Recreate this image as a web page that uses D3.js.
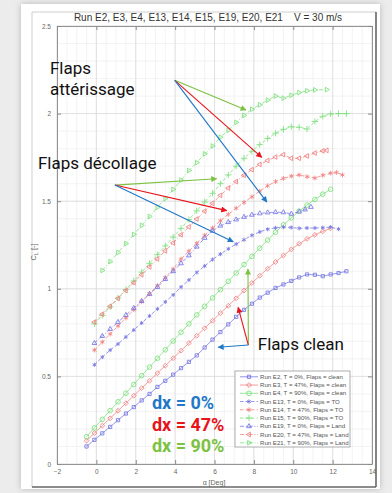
<!DOCTYPE html>
<html><head><meta charset="utf-8">
<script src="https://cdn.jsdelivr.net/npm/d3@7"></script>
<style>html,body{margin:0;padding:0;background:#ececec;overflow:hidden}svg{display:block}</style>
</head><body>
<script>
// ---------------- DATA ----------------
const titleText = "Run E2, E3, E4, E13, E14, E15, E19, E20, E21    V = 30 m/s";
const xTicks = [-2, 0, 2, 4, 6, 8, 10, 12, 14];
const yTicks = [0, 0.5, 1, 1.5, 2, 2.5];
const yTickLabels = ["0", "0.5", "1", "1.5", "2", "2.5"];
const runs = ["E2", "E3", "E4", "E13", "E14", "E15", "E19", "E20", "E21"];
const legendLabels = [
  "Run E2, T = 0%, Flaps = clean",
  "Run E3, T = 47%, Flaps = clean",
  "Run E4, T = 90%, Flaps = clean",
  "Run E13, T = 0%, Flaps = TO",
  "Run E14, T = 47%, Flaps = TO",
  "Run E15, T = 90%, Flaps = TO",
  "Run E19, T = 0%, Flaps = Land",
  "Run E20, T = 47%, Flaps = Land",
  "Run E21, T = 90%, Flaps = Land"
];
const thrust = ["0%", "47%", "90%", "0%", "47%", "90%", "0%", "47%", "90%"];
const flaps = ["clean", "clean", "clean", "TO", "TO", "TO", "Land", "Land", "Land"];

const alphaE2 = [-0.5,-0.1,0.3,0.7,1.1,1.5,1.9,2.3,2.7,3.1,3.5,3.9,4.3,4.7,5.1,5.5,5.9,6.3,6.7,7.1,7.5,7.9,8.3,8.7,9.1,9.5,9.9,10.3,10.7,11.1,11.5,11.9,12.3,12.7];
const clE2 = [0.100,0.138,0.175,0.212,0.250,0.288,0.325,0.363,0.400,0.440,0.475,0.510,0.547,0.583,0.620,0.665,0.710,0.753,0.797,0.840,0.880,0.915,0.950,0.978,1.005,1.025,1.045,1.065,1.082,1.080,1.072,1.082,1.090,1.100];

const alphaE3 = [-0.5,-0.1,0.3,0.7,1.1,1.5,1.9,2.3,2.7,3.1,3.5,3.9,4.3,4.7,5.1,5.5,5.9,6.3,6.7,7.1,7.5,7.9,8.3,8.7,9.1,9.5,9.9,10.3,10.7,11.1,11.5,11.9];
const clE3 = [0.133,0.176,0.219,0.261,0.304,0.347,0.390,0.433,0.475,0.518,0.561,0.604,0.647,0.690,0.732,0.775,0.818,0.861,0.903,0.946,0.990,1.033,1.075,1.115,1.153,1.190,1.225,1.257,1.285,1.308,1.328,1.345];

const alphaE4 = [-0.5,-0.1,0.3,0.7,1.1,1.5,1.9,2.3,2.7,3.1,3.5,3.9,4.3,4.7,5.1,5.5,5.9,6.3,6.7,7.1,7.5,7.9,8.3,8.7,9.1,9.5,9.9,10.3,10.7,11.1,11.5,11.9];
const clE4 = [0.156,0.206,0.255,0.305,0.355,0.404,0.454,0.504,0.553,0.603,0.652,0.702,0.752,0.800,0.851,0.900,0.948,0.995,1.043,1.090,1.138,1.185,1.232,1.278,1.323,1.365,1.405,1.443,1.478,1.510,1.540,1.568];

const alphaE13 = [-0.1,0.3,0.7,1.1,1.5,1.9,2.3,2.7,3.1,3.5,3.9,4.3,4.7,5.1,5.5,5.9,6.3,6.7,7.1,7.5,7.9,8.3,8.7,9.1,9.5,9.9,10.3,10.7,11.1,11.5,11.9,12.3];
const clE13 = [0.566,0.610,0.650,0.685,0.725,0.765,0.805,0.845,0.885,0.925,0.965,1.010,1.050,1.093,1.130,1.167,1.198,1.228,1.255,1.280,1.305,1.325,1.340,1.348,1.352,1.350,1.345,1.347,1.347,1.349,1.352,1.341];

const alphaE14 = [-0.1,0.3,0.7,1.1,1.5,1.9,2.3,2.7,3.1,3.5,3.9,4.3,4.7,5.1,5.5,5.9,6.3,6.7,7.1,7.5,7.9,8.3,8.7,9.1,9.5,9.9,10.3,10.7,11.1,11.5,11.9,12.2,12.5];
const clE14 = [0.650,0.696,0.742,0.788,0.834,0.880,0.926,0.972,1.018,1.064,1.112,1.170,1.215,1.260,1.305,1.347,1.388,1.425,1.460,1.493,1.525,1.558,1.588,1.612,1.630,1.643,1.650,1.640,1.632,1.648,1.660,1.664,1.650];

const alphaE15 = [-0.1,0.3,0.7,1.1,1.5,1.9,2.3,2.7,3.1,3.5,3.9,4.3,4.7,5.1,5.5,5.9,6.3,6.7,7.1,7.5,7.9,8.3,8.7,9.1,9.5,9.9,10.3,10.7,11.1,11.5,11.9,12.3,12.7];
const clE15 = [0.800,0.848,0.897,0.947,0.996,1.045,1.095,1.145,1.195,1.245,1.295,1.345,1.395,1.445,1.495,1.545,1.600,1.650,1.700,1.745,1.785,1.823,1.858,1.888,1.910,1.925,1.922,1.912,1.955,1.985,1.998,2.000,2.000];

const alphaE19 = [-0.1,0.3,0.7,1.1,1.5,1.9,2.3,2.7,3.1,3.5,3.9,4.3,4.7,5.1,5.5,5.9,6.3,6.7,7.1,7.5,7.9,8.3,8.7,9.1,9.5,9.9,10.3,10.6,10.9];
const clE19 = [0.690,0.730,0.770,0.810,0.850,0.890,0.930,0.970,1.010,1.055,1.100,1.145,1.190,1.240,1.290,1.330,1.360,1.380,1.395,1.410,1.422,1.430,1.435,1.437,1.436,1.428,1.440,1.452,1.467];

const alphaE20 = [-0.1,0.3,0.7,1.1,1.5,1.9,2.3,2.7,3.1,3.5,3.9,4.3,4.7,5.1,5.5,5.9,6.3,6.7,7.1,7.5,7.9,8.3,8.7,9.1,9.5,9.9,10.3,10.7,11.1,11.5,11.7];
const clE20 = [0.810,0.855,0.900,0.945,0.990,1.035,1.080,1.125,1.170,1.217,1.262,1.308,1.353,1.398,1.443,1.488,1.533,1.575,1.612,1.648,1.680,1.710,1.732,1.752,1.766,1.745,1.745,1.758,1.775,1.787,1.790];

const alphaE21 = [0.3,0.7,1.1,1.5,1.9,2.3,2.7,3.1,3.5,3.9,4.3,4.7,5.1,5.5,5.9,6.3,6.7,7.1,7.5,7.9,8.3,8.7,9.1,9.5,9.9,10.3,10.7,11.1,11.7];
const clE21 = [1.105,1.155,1.207,1.258,1.310,1.362,1.413,1.465,1.515,1.567,1.620,1.675,1.720,1.770,1.815,1.865,1.905,1.950,1.990,2.025,2.050,2.077,2.100,2.088,2.105,2.120,2.130,2.135,2.137];

const dxLabels = ["dx = 0%", "dx = 47%", "dx = 90%"];
const flapLabels = ["Flaps", "attérissage", "Flaps décollage", "Flaps clean"];

// ---------------- DRAWING ----------------
const alphas = [alphaE2, alphaE3, alphaE4, alphaE13, alphaE14, alphaE15, alphaE19, alphaE20, alphaE21];
const cls = [clE2, clE3, clE4, clE13, clE14, clE15, clE19, clE20, clE21];
const series = runs.map((r, i) => ({
  run: r, label: legendLabels[i], T: thrust[i], flaps: flaps[i],
  pts: alphas[i].map((a, j) => ({a, c: cls[i][j]}))
}));

const W = 392, H = 493;
const colorByT = {"0%": "#6161e0", "47%": "#ef6c6c", "90%": "#66db66"};
const dashByFlaps = {"clean": null, "TO": "3.5,2", "Land": "4,1.8,1,1.8"};
const markerByRun = {
  E2: {sym: d3.symbolSquare2, size: 13, rot: 0},
  E3: {sym: d3.symbolDiamond2, size: 15, rot: 0},
  E4: {sym: d3.symbolCircle, size: 17, rot: 0},
  E13: {sym: d3.symbolAsterisk, size: 12, rot: 0},
  E14: {sym: d3.symbolAsterisk, size: 16, rot: 0},
  E15: {sym: d3.symbolPlus, size: 15, rot: 0},
  E19: {sym: d3.symbolTriangle2, size: 16, rot: 0},
  E20: {sym: d3.symbolTriangle2, size: 16, rot: -90},
  E21: {sym: d3.symbolTriangle2, size: 16, rot: 90}
};

const svg = d3.select("body").append("svg").attr("width", W).attr("height", H);
const defs = svg.append("defs");
const f = defs.append("filter").attr("id", "sh").attr("x", "-10%").attr("y", "-10%").attr("width", "120%").attr("height", "120%");
f.append("feDropShadow").attr("dx", 0).attr("dy", 0).attr("stdDeviation", 3).attr("flood-color", "#000").attr("flood-opacity", 0.22);

svg.append("rect").attr("width", W).attr("height", H).attr("fill", "#ececec");
svg.append("rect").attr("x", 21).attr("y", 4).attr("width", 359).attr("height", 485).attr("fill", "#fff").attr("filter", "url(#sh)");

// figure frame
svg.append("line").attr("x1", 32).attr("y1", 12).attr("x2", 376).attr("y2", 12).attr("stroke", "#cfcfcf");
svg.append("line").attr("x1", 32).attr("y1", 12).attr("x2", 32).attr("y2", 487).attr("stroke", "#cfcfcf");
svg.append("line").attr("x1", 376).attr("y1", 12).attr("x2", 376).attr("y2", 487).attr("stroke", "#666").attr("stroke-width", 1.6);
svg.append("line").attr("x1", 32).attr("y1", 487).attr("x2", 376).attr("y2", 487).attr("stroke", "#666").attr("stroke-width", 1.6);

const x = d3.scaleLinear().domain([-2, 14]).range([57, 372]);
const y = d3.scaleLinear().domain([0, 2.5]).range([464, 26]);
const [x0, x1] = x.range(), [y0, y1] = y.range();

// grid
const g = svg.append("g");
g.selectAll(".mx").data(d3.range(-2, 14.001, 0.5)).enter().append("line")
  .attr("x1", d => x(d)).attr("x2", d => x(d)).attr("y1", y0).attr("y2", y1)
  .attr("stroke", "#eeeeee").attr("stroke-width", 0.7);
g.selectAll(".my").data(d3.range(0, 2.5001, 0.1)).enter().append("line")
  .attr("y1", d => y(d)).attr("y2", d => y(d)).attr("x1", x0).attr("x2", x1)
  .attr("stroke", "#eeeeee").attr("stroke-width", 0.7);
g.selectAll(".Mx").data(xTicks).enter().append("line")
  .attr("x1", d => x(d)).attr("x2", d => x(d)).attr("y1", y0).attr("y2", y1)
  .attr("stroke", "#dcdcdc").attr("stroke-width", 0.8);
g.selectAll(".My").data(yTicks).enter().append("line")
  .attr("y1", d => y(d)).attr("y2", d => y(d)).attr("x1", x0).attr("x2", x1)
  .attr("stroke", "#dcdcdc").attr("stroke-width", 0.8);

// axes (ticks inside, box)
const axStroke = "#8a8a8a";
svg.append("g").attr("transform", `translate(0,${y0})`).call(d3.axisBottom(x).tickValues(xTicks).tickSizeInner(-4).tickSizeOuter(0).tickPadding(5).tickFormat(d3.format("d")))
  .call(a => { a.select(".domain").attr("stroke", axStroke).attr("stroke-width", 0.9); a.selectAll("line").attr("stroke", axStroke); a.selectAll("text").attr("font-size", 6.5).attr("fill", "#666").attr("font-family", "Liberation Sans, Arial"); });
svg.append("g").attr("transform", `translate(0,${y1})`).call(d3.axisTop(x).tickValues(xTicks).tickSizeInner(-4).tickSizeOuter(0).tickFormat(""))
  .call(a => { a.select(".domain").attr("stroke", axStroke).attr("stroke-width", 0.9); a.selectAll("line").attr("stroke", axStroke); });
svg.append("g").attr("transform", `translate(${x0},0)`).call(d3.axisLeft(y).tickValues(yTicks).tickSizeInner(-4).tickSizeOuter(0).tickPadding(6).tickFormat((d, i) => yTickLabels[i]))
  .call(a => { a.select(".domain").attr("stroke", axStroke).attr("stroke-width", 0.9); a.selectAll("line").attr("stroke", axStroke); a.selectAll("text").attr("font-size", 6.5).attr("fill", "#666").attr("font-family", "Liberation Sans, Arial"); });
svg.append("g").attr("transform", `translate(${x1},0)`).call(d3.axisRight(y).tickValues(yTicks).tickSizeInner(-4).tickSizeOuter(0).tickFormat(""))
  .call(a => { a.select(".domain").attr("stroke", axStroke).attr("stroke-width", 0.9); a.selectAll("line").attr("stroke", axStroke); });

// title and axis labels
svg.append("text").attr("x", 208).attr("y", 21).attr("text-anchor", "middle").attr("font-family", "Liberation Sans, Arial")
  .attr("font-size", 10).attr("fill", "#333").style("white-space", "pre").text(titleText);
svg.append("text").attr("x", 214).attr("y", 484.5).attr("text-anchor", "middle").attr("font-family", "Liberation Sans, Arial")
  .attr("font-size", 7).attr("fill", "#666").text("\u03b1 [Deg]");
const yl = svg.append("text").attr("transform", "translate(36,252) rotate(-90)").attr("text-anchor", "middle")
  .attr("font-family", "Liberation Sans, Arial").attr("font-size", 7.5).attr("fill", "#666");
yl.append("tspan").text("C");
yl.append("tspan").attr("font-size", 5.5).attr("dy", 2).text("L");
yl.append("tspan").attr("dy", -2).text(" [-]");

// series
const line = d3.line().x(d => x(d.a)).y(d => y(d.c));
function drawMarker(sel, run, col) {
  const m = markerByRun[run];
  sel.append("path").attr("d", d3.symbol().type(m.sym).size(m.size)())
    .attr("fill", "none").attr("stroke", col).attr("stroke-width", 0.9)
    .attr("transform", d => `translate(${d[0]},${d[1]}) rotate(${m.rot})`);
}
const sg = svg.append("g").attr("opacity", 0.82);
series.forEach(s => {
  const col = colorByT[s.T];
  sg.append("path").datum(s.pts).attr("d", line).attr("fill", "none").attr("stroke", col)
    .attr("stroke-width", 0.8).attr("stroke-dasharray", dashByFlaps[s.flaps]);
  const mg = sg.append("g").selectAll("g").data(s.pts.map(p => [x(p.a), y(p.c)])).enter().append("g");
  drawMarker(mg, s.run, col);
});

// legend
const lg = svg.append("g");
lg.append("rect").attr("x", 235).attr("y", 371).attr("width", 115).attr("height", 76).attr("fill", "#fff").attr("stroke", "#9a9a9a").attr("stroke-width", 0.8);
series.forEach((s, i) => {
  const yy = 376.8 + i * 8.25;
  const col = colorByT[s.T];
  lg.append("line").attr("x1", 240).attr("x2", 258).attr("y1", yy).attr("y2", yy).attr("stroke", col).attr("stroke-width", 0.8)
    .attr("stroke-dasharray", dashByFlaps[s.flaps]).attr("opacity", 0.85);
  const mg = lg.append("g").attr("opacity", 0.85).selectAll("g").data([[249, yy]]).enter().append("g");
  drawMarker(mg, s.run, col);
  lg.append("text").attr("x", 260).attr("y", yy).attr("dy", "0.35em").attr("font-family", "Liberation Sans, Arial")
    .attr("font-size", 6.1).attr("fill", "#555").text(s.label);
});

// annotation arrows (in data coordinates)
const arrowCol = {blue: "#1f78c8", red: "#e8141c", green: "#7cc242"};
Object.entries(arrowCol).forEach(([k, c]) => {
  defs.append("marker").attr("id", "ah-" + k).attr("viewBox", "0 0 10 10").attr("refX", 9).attr("refY", 5)
    .attr("markerWidth", 7).attr("markerHeight", 6).attr("markerUnits", "userSpaceOnUse").attr("orient", "auto")
    .append("path").attr("d", "M0,0 L10,5 L0,10 z").attr("fill", c);
});
const arrowGroups = [
  {from: [3.98, 2.19], to: [[7.6, 2.02, "green"], [8.4, 1.75, "red"], [8.66, 1.495, "blue"]]},
  {from: [0.94, 1.592], to: [[6.11, 1.628, "green"], [6.62, 1.446, "red"], [6.95, 1.269, "blue"]]},
  {from: [7.72, 0.679], to: [[7.7, 1.113, "green"], [7.2, 0.894, "red"], [6.19, 0.666, "blue"]]}
];
const ag = svg.append("g");
arrowGroups.forEach(gp => gp.to.forEach(t => {
  ag.append("line").attr("x1", x(gp.from[0])).attr("y1", y(gp.from[1])).attr("x2", x(t[0])).attr("y2", y(t[1]))
    .attr("stroke", arrowCol[t[2]]).attr("stroke-width", 1.1).attr("marker-end", `url(#ah-${t[2]})`);
}));

// annotation texts
const tf = "Roboto, 'Noto Sans', sans-serif";
svg.append("text").attr("x", x(-2.36)).attr("y", y(2.225)).attr("font-family", tf).attr("font-size", 17).attr("fill", "#111").text(flapLabels[0]);
svg.append("text").attr("x", x(-2.36)).attr("y", y(2.108)).attr("font-family", tf).attr("font-size", 17).attr("fill", "#111").text(flapLabels[1]);
svg.append("text").attr("x", x(-2.97)).attr("y", y(1.684)).attr("font-family", tf).attr("font-size", 17).attr("fill", "#111").text(flapLabels[2]);
svg.append("text").attr("x", x(8.2)).attr("y", y(0.648)).attr("font-family", tf).attr("font-size", 17).attr("fill", "#111").text(flapLabels[3]);

const dxCols = ["#1f78c8", "#e8141c", "#7cc242"];
const dxCL = [0.314, 0.188, 0.068];
dxLabels.forEach((t, i) => {
  svg.append("text").attr("x", x(2.82)).attr("y", y(dxCL[i])).attr("font-family", tf).attr("font-weight", "bold")
    .attr("font-size", 18).attr("fill", dxCols[i]).text(t);
});
</script>
</body></html>
